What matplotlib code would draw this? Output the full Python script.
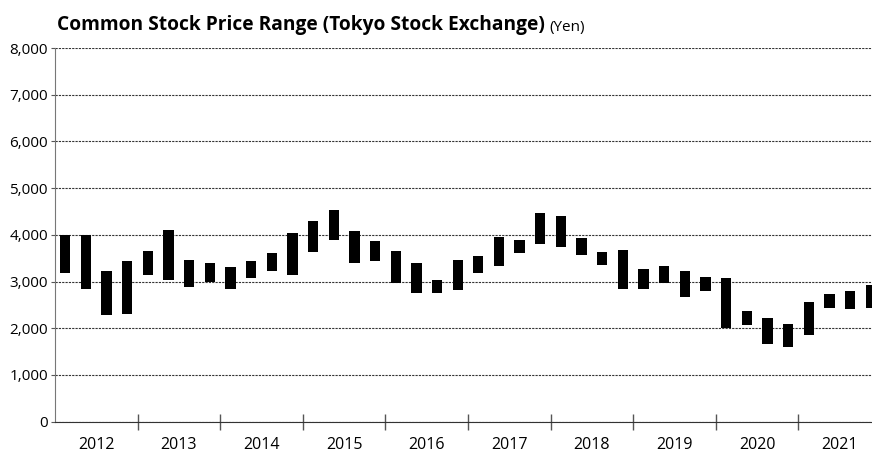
import matplotlib.pyplot as plt
from matplotlib.ticker import FuncFormatter, FixedLocator
import numpy as np

plt.rcParams['font.family'] = ['Open Sans', 'DejaVu Sans']

# quarterly high / low share prices (yen), fiscal 2012 Q1 .. 2021 Q4
years = list(range(2012, 2022))
highs = [4000, 4000, 3230, 3430, 3660, 4100, 3460, 3390,
         3310, 3430, 3620, 4040, 4300, 4530, 4090, 3860,
         3650, 3390, 3030, 3460, 3540, 3960, 3890, 4460,
         4400, 3940, 3630, 3670, 3270, 3340, 3230, 3100,
         3080, 2370, 2210, 2090, 2560, 2730, 2790, 2930]
lows = [3190, 2850, 2290, 2300, 3150, 3040, 2880, 3000,
        2850, 3070, 3230, 3150, 3630, 3890, 3390, 3430,
        2960, 2760, 2760, 2830, 3190, 3340, 3610, 3810,
        3750, 3560, 3350, 2850, 2850, 2960, 2680, 2800,
        2010, 2060, 1660, 1600, 1860, 2440, 2410, 2440]

highs = np.array(highs)
lows = np.array(lows)
x = np.array([y + (q + 0.5) / 4 for y in years for q in range(4)])

fig = plt.figure(figsize=(8.72, 4.53), dpi=100, facecolor='white')
ax = fig.add_axes([55 / 872, 31.3 / 453, 826 / 872, 373.7 / 453])

ax.bar(x, highs - lows, bottom=lows, width=0.125, color='black', zorder=3)

ax.set_xlim(2012, 2022)
ax.set_ylim(0, 8000)

ax.set_yticks(np.arange(0, 8001, 1000))
ax.yaxis.set_major_formatter(FuncFormatter(lambda v, p: f'{int(v):,}'))
ax.grid(axis='y', color='#333333', linestyle=(0, (2, 1)), linewidth=0.8, zorder=1)

# year boundaries get the tick marks, labels sit centred in each year
ax.xaxis.set_major_locator(FixedLocator(years[1:]))
ax.xaxis.set_minor_locator(FixedLocator([y + 0.5 for y in years]))
ax.set_xticklabels([], minor=False)
ax.set_xticklabels([str(y) for y in years], minor=True)
ax.tick_params(axis='x', which='major', direction='inout', length=12, width=1, color='#555555')
ax.tick_params(axis='x', which='minor', length=0, pad=11, labelsize=11.5)
ax.tick_params(axis='y', length=3, width=0.8, color='#555555', pad=2, labelsize=11)

for side in ['top', 'right']:
    ax.spines[side].set_visible(False)
ax.spines['left'].set_color('#777777')
ax.spines['bottom'].set_color('#333333')
ax.spines['bottom'].set_linestyle((0, (2, 1)))
ax.spines['bottom'].set_linewidth(0.8)

title = fig.text(57 / 872, 1 - 30 / 453, 'Common Stock Price Range (Tokyo Stock Exchange)',
                 fontsize=13.8, fontweight='bold', va='baseline', ha='left')
ax.annotate('(Yen)', xy=(1, 0), xycoords=title, xytext=(3, 0),
            textcoords='offset points', fontsize=11, va='bottom', ha='left')

fig.savefig('out.png', dpi=100)
